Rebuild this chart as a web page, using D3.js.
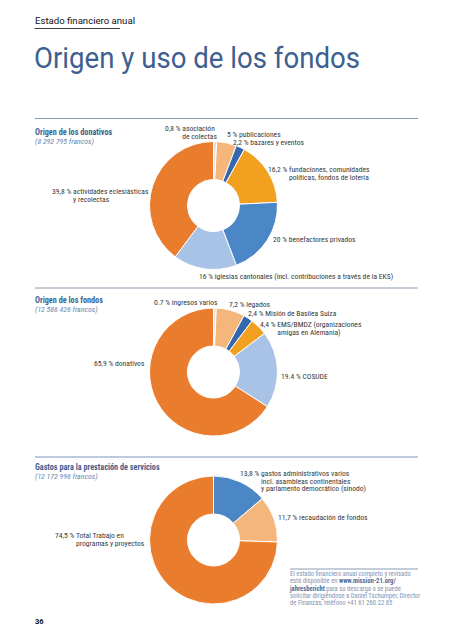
<!DOCTYPE html>
<html><head><meta charset="utf-8">
<script src="https://cdn.jsdelivr.net/npm/d3@7"></script>
<style>
html,body{margin:0;padding:0;background:#fff;}
svg{display:block;}
text{font-family:"Liberation Sans Narrow","Roboto Condensed","DejaVu Sans Condensed",Roboto,sans-serif;}
</style></head><body>
<svg id="c" width="453" height="640"></svg>
<script>
// ---------- DATA ----------
const donativosValues = [0.8, 5, 2.2, 16.2, 20, 16, 39.8];
const donativosLabels = [
  ["0,8 %", "asociación", "de colectas"],
  ["5 %", "publicaciones"],
  ["2,2 %", "bazares y eventos"],
  ["16,2 %", "fundaciones, comunidades", "políticas, fondos de lotería"],
  ["20 %", "benefactores privados"],
  ["16 %", "iglesias cantonales (incl. contribuciones a través de la EKS)"],
  ["39,8 %", "actividades eclesiásticas", "y recolectas"]
];
const donativosKinds = ["sliver","peach","dark","amber","mid","light","orange"];

const fondosValues = [0.7, 7.2, 2.4, 4.4, 19.4, 65.9];
const fondosLabels = [
  ["0.7 %", "ingresos varios"],
  ["7,2 %", "legados"],
  ["2,4 %", "Misión de Basilea Suiza"],
  ["4,4 %", "EMS/BMDZ (organizaciones", "amigas en Alemania)"],
  ["19.4 %", "COSUDE"],
  ["65,9 %", "donativos"]
];
const fondosKinds = ["sliver","peach","dark","amber","light","orange"];

const gastosValues = [13.8, 11.7, 74.5];
const gastosLabels = [
  ["13,8 %", "gastos administrativos varios", "incl. asambleas continentales", "y parlamento democrático (sínodo)"],
  ["11,7 %", "recaudación de fondos"],
  ["74,5 %", "Total Trabajo en", "programas y proyectos"]
];
const gastosKinds = ["mid","peach","orange"];

const sectionTitles = ["Origen de los donativos","Origen de los fondos","Gastos para la prestación de servicios"];
const sectionTotals = ["(8 292 795 francos)","(12 586 426 francos)","(12 172 996 francos)"];

// ---------- STYLE / LAYOUT ----------
const colors = {sliver:"#e6e1dc", peach:"#f5b67b", dark:"#3567ad", amber:"#f1a11f", mid:"#4b86c6", light:"#a8c3e6", orange:"#ea7c2e"};
const labelPos = [
  [[165,131],[227,137],[233,145],[268,172],[273,242],[199,279],[52,194]],
  [[154,305],[229,307],[248,316],[260,327],[281,379],[94,366]],
  [[240,476],[278,520],[55,538]]
];
const centers = [[213.5,205.5],[213.5,372],[213.5,540]];
const titleY = [135,303,470];
const outerR = 64, innerR = 26, lineH = 7.6, labelSize = 7.6;

const svg = d3.select("#c");

// header
svg.append("text").attr("x",35).attr("y",24).attr("font-size",9.6).attr("fill","#111")
  .style("font-family","Roboto, sans-serif").text("Estado financiero anual");
svg.append("line").attr("x1",34.5).attr("x2",120).attr("y1",28.5).attr("y2",28.5).attr("stroke","#111").attr("stroke-width",0.8);

// title
const title = svg.append("text").attr("x",34).attr("y",68).attr("font-size",29.5).attr("fill","#3d6090")
  .style("font-family","Roboto, sans-serif").style("font-weight",400).text("Origen y uso de los fondos");
title.attr("textLength",326).attr("lengthAdjust","spacingAndGlyphs");

// rules
svg.append("line").attr("x1",35).attr("x2",418).attr("y1",118.5).attr("y2",118.5).attr("stroke","#7d8ea6").attr("stroke-width",0.9);
svg.append("line").attr("x1",35).attr("x2",418).attr("y1",288).attr("y2",288).attr("stroke","#7d8ea6").attr("stroke-width",0.9);
svg.append("line").attr("x1",35).attr("x2",418).attr("y1",457).attr("y2",457).attr("stroke","#a9b8d6").attr("stroke-width",1.6);

const pie = d3.pie().sort(null).value(d=>d);
const arc = d3.arc().innerRadius(innerR).outerRadius(outerR);

function drawDonut(i, values, kinds, labels){
  const [cx,cy] = centers[i];
  const g = svg.append("g").attr("transform",`translate(${cx},${cy})`);
  g.selectAll("path").data(pie(values)).join("path")
    .attr("d",arc).attr("fill",(d,j)=>colors[kinds[j]])
    .attr("stroke","#fff").attr("stroke-width",1);

  // section title
  svg.append("text").attr("x",35).attr("y",titleY[i]).attr("font-size",8.2).attr("font-weight","bold")
    .attr("fill","#3f5f8d").text(sectionTitles[i]);
  svg.append("text").attr("x",35).attr("y",titleY[i]+9).attr("font-size",7.8).attr("font-style","italic")
    .attr("fill","#6a86b0").text(sectionTotals[i]);

  labels.forEach((lab,j)=>{
    const [x,y] = labelPos[i][j];
    svg.append("text").attr("x",x).attr("y",y).attr("font-size",labelSize).attr("fill","#383838")
      .text(lab[0]+" "+lab[1]);
    if (lab.length>2){
      const pre = svg.append("text").attr("font-size",labelSize).attr("opacity",0).text(lab[0]+"\u00a0");
      const w = pre.node().getComputedTextLength(); pre.remove();
      for(let k=2;k<lab.length;k++){
        svg.append("text").attr("x",x+w).attr("y",y+lineH*(k-1)).attr("font-size",labelSize).attr("fill","#383838").text(lab[k]);
      }
    }
  });
}
drawDonut(0, donativosValues, donativosKinds, donativosLabels);
drawDonut(1, fondosValues, fondosKinds, fondosLabels);
drawDonut(2, gastosValues, gastosKinds, gastosLabels);

// footer box
svg.append("line").attr("x1",290).attr("x2",418).attr("y1",569).attr("y2",569).attr("stroke","#8a9bb6").attr("stroke-width",1.2);
const foot = [
  [["El estado financiero anual completo y revisado",false]],
  [["está disponible en ",false],["www.mission-21.org/",true]],
  [["jahresbericht",true],[" para su descarga o se puede",false]],
  [["solicitar dirigiéndose a Daniel Tschumper, Director",false]],
  [["de Finanzas, teléfono +41 61 260 22 85",false]]
];
foot.forEach((ln,k)=>{
  const t = svg.append("text").attr("x",290).attr("y",576+k*7.3).attr("font-size",6.6).attr("fill","#7f93b4");
  ln.forEach(([s,b])=>t.append("tspan").attr("font-weight",b?"bold":"normal").attr("fill",b?"#4d6a96":"#7f93b4").text(s));
});

// page number
svg.append("text").attr("x",35).attr("y",624).attr("font-size",7.5).attr("font-weight","bold").attr("fill","#111")
  .style("font-family","Roboto, sans-serif").text("36");
</script>
</body></html>
